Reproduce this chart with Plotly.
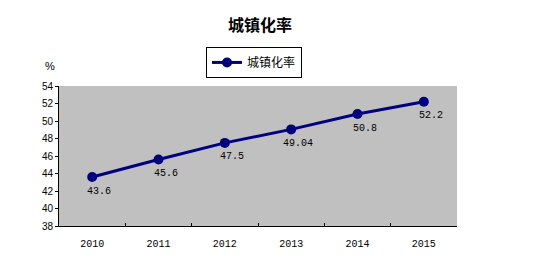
import plotly.graph_objects as go

years = ["2010", "2011", "2012", "2013", "2014", "2015"]
rates = [43.6, 45.6, 47.5, 49.04, 50.8, 52.2]
labels = ["43.6", "45.6", "47.5", "49.04", "50.8", "52.2"]
series_name = "城镇化率"
title_text = "城镇化率"

W, H = 535, 259
L, R, T, B = 59, 78, 86, 33

fig = go.Figure()
fig.add_trace(go.Scatter(
    x=years, y=rates, name=series_name, mode="lines+markers",
    line=dict(color="#000080", width=3),
    marker=dict(color="#000080", size=10, symbol="circle"),
))

for i, (yv, lab) in enumerate(zip(rates, labels)):
    fig.add_annotation(x=i, y=yv, text=lab, showarrow=False,
                       xref="x", yref="y",
                       xshift=7, yshift=-14,
                       font=dict(family="Liberation Mono", size=10, color="black"))

fig.add_annotation(xref="paper", yref="paper", x=-0.04, y=1.20, text="%",
                   showarrow=False, font=dict(family="Liberation Sans", size=11, color="black"))

fig.update_layout(
    width=W, height=H,
    margin=dict(l=L, r=R, t=T, b=B, autoexpand=False),
    paper_bgcolor="white", plot_bgcolor="#C0C0C0",
    title=dict(text="<b>" + title_text + "</b>", x=0.486, xanchor="center",
               y=1 - 25 / H, yanchor="middle",
               font=dict(family="Noto Sans CJK SC", size=16, color="black")),
    showlegend=True,
    legend=dict(orientation="h", x=0.49, xanchor="center", y=1.279, yanchor="top",
                bordercolor="black", borderwidth=1, bgcolor="white",
                font=dict(family="Noto Sans CJK SC", size=12, color="black"),
                itemwidth=30),
    xaxis=dict(type="category", range=[-0.5, 5.5], tickson="boundaries",
               ticks="inside", ticklen=3, tickcolor="black", automargin=False,
               showline=True, linecolor="black", linewidth=1, showgrid=False,
               zeroline=False, ticklabelstandoff=8,
               tickfont=dict(family="Liberation Mono", size=10, color="black")),
    yaxis=dict(range=[38, 54], dtick=2, ticks="outside", ticklen=3, tickcolor="black",
               showline=True, linecolor="black", linewidth=1, showgrid=False,
               zeroline=False, automargin=False,
               tickfont=dict(family="Liberation Sans", size=10, color="black")),
)

fig.write_html("out.html")
